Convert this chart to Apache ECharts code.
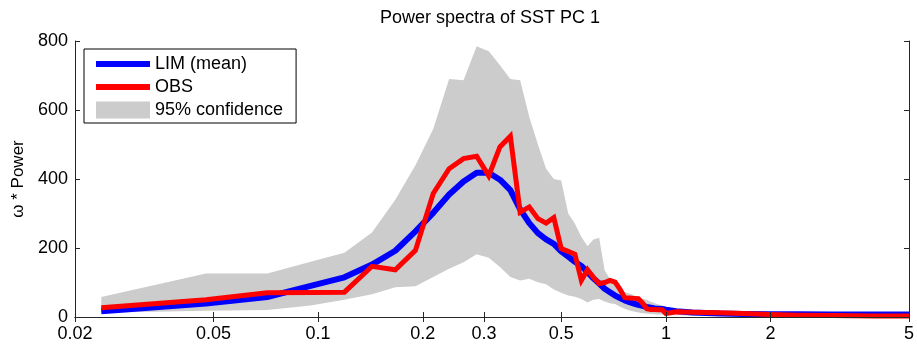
<!DOCTYPE html>
<html>
<head>
<meta charset="utf-8">
<script src="https://cdn.jsdelivr.net/npm/echarts@6/dist/echarts.min.js"></script>
<style>
html,body{margin:0;padding:0;background:#fff;}
#chart{width:917px;height:346px;}
</style>
</head>
<body>
<div id="chart"></div>
<script>
// frequency (cycles per year)
var freq = [0.0238,0.0476,0.0714,0.0952,0.1190,0.1429,0.1667,0.1905,0.2143,0.2381,
            0.2619,0.2857,0.3095,0.3333,0.3571,0.3810,0.4048,0.4286,0.4524,0.4762,
            0.5000,0.5238,0.5476,0.5714,0.5952,0.6190,0.6429,0.6667,0.6905,0.7143,
            0.7381,0.7619,0.7857,0.8095,0.8333,0.8571,0.8810,0.9048,0.9286,0.9524,
            0.9762,1.0000,1.0714,1.1905,1.4286,1.6667,2.0000,2.3810,3.0000,4.0000,5.0000];
// LIM mean spectrum (omega * power)
var limMean = [17,39,58,90,115,152,192,248,302,355,
               393,418,418,398,368,312,272,243,225,212,
               190,175,160,148,130,112,97,82,72,62,
               55,48,43,39,35,32,29,27,25,24,
               23,21,17,13,10,9,8,8,7,7,7];
// observed spectrum
var obs = [27,50,70,71,72,147,137,193,358,430,
           459,466,409,493,524,304,319,285,272,288,
           198,190,182,106,137,115,97,100,106,101,
           80,56,55,54,53,40,24,22,22,21,
           21,10,15,14,12,10,7,5,4,3,3];
// 95% confidence band
var confLower = [12,18,20,33,50,66,86,89,116,140,
                 159,182,172,145,116,106,111,101,95,80,
                 70,62,59,52,42,50,52,45,40,38,
                 30,24,19,16,13,11,10,9,8,7,
                 7,6,5,4,3,3,2,2,2,2,2];
var confUpper = [58,126,126,160,186,245,340,440,545,690,
                 686,785,770,730,690,686,580,500,430,400,
                 396,300,270,232,205,225,230,135,110,92,
                 80,72,68,62,56,53,50,44,40,36,
                 33,30,22,16,12,11,10,10,9,9,9];
var xTicks = [0.02,0.05,0.1,0.2,0.3,0.5,1,2,5];
var yMin = 0, yMax = 800, yStep = 200;

function pairs(ys){ return freq.map(function(f,i){ return [f, ys[i]]; }); }
var bandData = freq.map(function(f,i){ return [f, confLower[i], confUpper[i]]; });

var FONT = 'Liberation Sans, Arial, Helvetica, sans-serif';
var AX = '#262626';

var chart = echarts.init(document.getElementById('chart'), null, {renderer:'canvas'});
var option = {
  animation: false,
  backgroundColor: '#ffffff',
  title: {
    text: 'Power spectra of SST PC 1',
    left: 375, top: 4,
    textStyle: {fontFamily: FONT, fontSize: 18, fontWeight: 'normal', color: '#000'}
  },
  grid: {left: 75, right: 4, top: 41, bottom: 29, containLabel: false},
  legend: {
    orient: 'vertical', left: 84, top: 49,
    padding: [6, 13, 4, 12], itemGap: 5,
    itemWidth: 54, itemHeight: 17,
    backgroundColor: '#fff', borderColor: '#000', borderWidth: 1,
    textStyle: {fontFamily: FONT, fontSize: 18, color: '#000'},
    selectedMode: false,
    data: [
      {name: 'LIM (mean)', icon: 'path://M0,0H54V6H0Z', itemStyle: {color: '#0000ff'}},
      {name: 'OBS', icon: 'path://M0,0H54V6H0Z', itemStyle: {color: '#ff0000'}},
      {name: '95% confidence', icon: 'rect', itemStyle: {color: '#cccccc'}}
    ]
  },
  xAxis: [{
    type: 'log', logBase: 10, min: 0.02, max: 5, z: 10,
    axisLine: {lineStyle: {color: AX, width: 1}},
    axisTick: {show: true, inside: true, length: 5, lineStyle: {color: AX}, customValues: xTicks},
    minorTick: {show: false},
    axisLabel: {fontFamily: FONT, fontSize: 18, color: '#000', margin: 8, customValues: xTicks,
      formatter: function(v){ return String(v); }},
    splitLine: {show: false}
  }, {
    type: 'log', logBase: 10, min: 0.02, max: 5, position: 'top', z: 10,
    axisLine: {lineStyle: {color: AX, width: 1}},
    axisTick: {show: true, inside: true, length: 5, lineStyle: {color: AX}, customValues: xTicks},
    axisLabel: {show: false},
    splitLine: {show: false}
  }],
  yAxis: [{
    type: 'value', min: yMin, max: yMax, interval: yStep, z: 10,
    name: 'ω * Power', nameLocation: 'middle', nameGap: 39,
    nameTextStyle: {fontFamily: FONT, fontSize: 17, color: '#000'},
    axisLine: {show: true, lineStyle: {color: AX, width: 1}},
    axisTick: {show: true, inside: true, length: 5, lineStyle: {color: AX}},
    axisLabel: {fontFamily: FONT, fontSize: 18, color: '#000', margin: 7},
    splitLine: {show: false}
  }, {
    type: 'value', min: yMin, max: yMax, interval: yStep, position: 'right', z: 10,
    axisLine: {show: true, lineStyle: {color: AX, width: 1}},
    axisTick: {show: true, inside: true, length: 5, lineStyle: {color: AX}},
    axisLabel: {show: false},
    splitLine: {show: false}
  }],
  series: [{
    name: '95% confidence', type: 'custom', data: bandData,
    encode: {x: 0, y: [1, 2]}, silent: true, z: 1, color: '#cccccc',
    renderItem: function(params, api){
      if (params.dataIndexInside !== 0) return null;
      var n = params.dataInsideLength;
      var top = [], bot = [];
      for (var i = 0; i < n; i++) {
        top.push(api.coord([api.value(0, i), api.value(2, i)]));
        bot.push(api.coord([api.value(0, i), api.value(1, i)]));
      }
      return {type: 'polygon', shape: {points: top.concat(bot.reverse())},
              style: {fill: '#cccccc', stroke: null}};
    }
  }, {
    name: 'LIM (mean)', type: 'line', data: pairs(limMean), symbol: 'none',
    color: '#0000ff', lineStyle: {color: '#0000ff', width: 6, join: 'round', cap: 'butt'}, z: 3
  }, {
    name: 'OBS', type: 'line', data: pairs(obs), symbol: 'none',
    color: '#ff0000', lineStyle: {color: '#ff0000', width: 5, join: 'miter', cap: 'butt'}, z: 4
  }]
};
chart.setOption(option);
</script>
</body>
</html>
